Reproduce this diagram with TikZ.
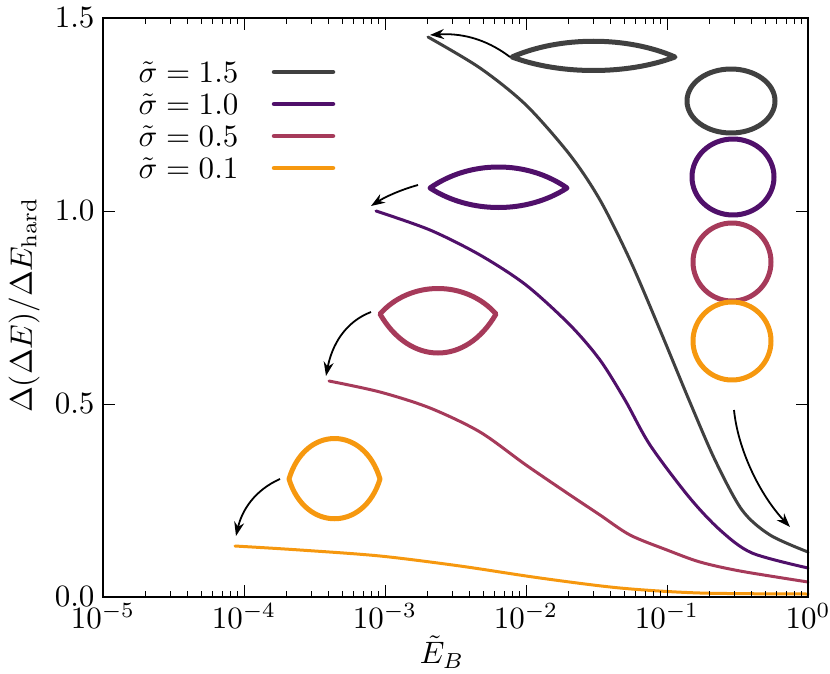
\documentclass[tikz,border=0pt]{standalone}
\usetikzlibrary{arrows.meta}
\definecolor{cg}{HTML}{404040}
\definecolor{cp}{HTML}{50106A}
\definecolor{cr}{HTML}{A63A5A}
\definecolor{co}{HTML}{F6980F}
\begin{document}
\begin{tikzpicture}[x=1pt,y=-1pt,
  lbl/.style={scale=3.1,inner sep=0pt},
  curve/.style={line width=3pt,line cap=round},
  shp/.style={line width=5pt,line join=round},
  arr/.style={line width=1.8pt,-{Stealth[length=14pt,width=10pt]}}]
\useasboundingbox (0,0) rectangle (830,674);
% curves
\draw[curve,co] plot[smooth] coordinates {(235,546)(300,550)(380,556)(460,566)(540,578)(620,588)(700,593)(808,594)};
\draw[curve,cr] plot[smooth] coordinates {(329,381)(380,392)(430,408)(480,432)(526,465)(570,495)(600,515)(630,535)(667,550)(700,562)(740,571)(808,582)};
\draw[curve,cp] plot[smooth] coordinates {(376,211)(430,230)(480,255)(526,285)(570,325)(600,360)(625,400)(650,445)(689,497)(720,530)(752,553)(808,568)};
\draw[curve,cg] plot[smooth] coordinates {(428,37)(480,68)(526,105)(570,155)(600,200)(630,260)(660,330)(689,400)(715,460)(742,510)(770,535)(808,552)};
% axes box
\draw[line width=1.2pt] (103,18) rectangle (808,597);
\foreach \d in {0,...,4}{
  \pgfmathsetmacro\xo{103+141*\d}
  \foreach \k in {2,...,9}{
    \pgfmathsetmacro\xx{\xo+141*log10(\k)}
    \draw[line width=0.9pt] (\xx,597) -- ++(0,-6) (\xx,18) -- ++(0,6);}
}
\foreach \d in {0,...,5}{
  \pgfmathsetmacro\xx{103+141*\d}
  \draw[line width=0.9pt] (\xx,597) -- ++(0,-12) (\xx,18) -- ++(0,12);}
\foreach \yy/\t in {597/0.0,404/0.5,211/1.0,18/1.5}{
  \draw[line width=0.9pt] (103,\yy) -- ++(12,0) (808,\yy) -- ++(-12,0);
  \node[lbl,anchor=east] (yl\t) at (95,\yy) {$\t$};}
\foreach \e [count=\i from 0] in {-5,-4,-3,-2,-1,0}{
  \node[lbl,anchor=north] (xl\i) at (103+141*\i,603) {$10^{\e}$};}
\node[lbl] (xlab) at (442,652) {$\tilde E_B$};
\node[lbl,rotate=90] (ylab) at (24,305) {$\Delta(\Delta E)/\Delta E_{\mathrm{hard}}$};
% legend
\foreach \y/\v/\c in {72/1.5/cg,104/1.0/cp,136/0.5/cr,168/0.1/co}{
  \node[lbl,anchor=west] (lg\v) at (138,\y) {$\tilde\sigma = \v$};
  \draw[line width=4.5pt,\c,line cap=round] (274,\y) -- (333,\y);}
% lenses
\draw[shp,cg] (512,57) .. controls (560,36) and (627,36) .. (675,57) .. controls (627,75) and (560,75) .. cycle;
\draw[shp,cp] (430,188) .. controls (470,160) and (527,160) .. (567,188) .. controls (527,214) and (470,214) .. cycle;
\draw[shp,cr] (380,314) .. controls (410,280) and (466,280) .. (496,314) .. controls (466,366) and (410,366) .. cycle;
\draw[shp,co] (289,479) .. controls (305,425) and (364,425) .. (380,479) .. controls (364,532) and (305,532) .. cycle;
% circles
\draw[shp,cg] (731,101) ellipse [x radius=44,y radius=32];
\draw[shp,cp] (733,177) ellipse [x radius=41,y radius=38];
\draw[shp,cr] (732,262) circle [radius=39];
\draw[shp,co] (732,341) circle [radius=39];
% arrows
\draw[arr] (510,57) .. controls (485,38) and (460,33) .. (430,35);
\draw[arr] (418,185) .. controls (400,190) and (385,197) .. (371,206);
\draw[arr] (371,312) .. controls (345,322) and (332,345) .. (326,376);
\draw[arr] (280,479) .. controls (255,490) and (242,510) .. (236,536);
\draw[arr] (734,410) .. controls (738,450) and (760,495) .. (790,527);
\end{tikzpicture}
\end{document}
